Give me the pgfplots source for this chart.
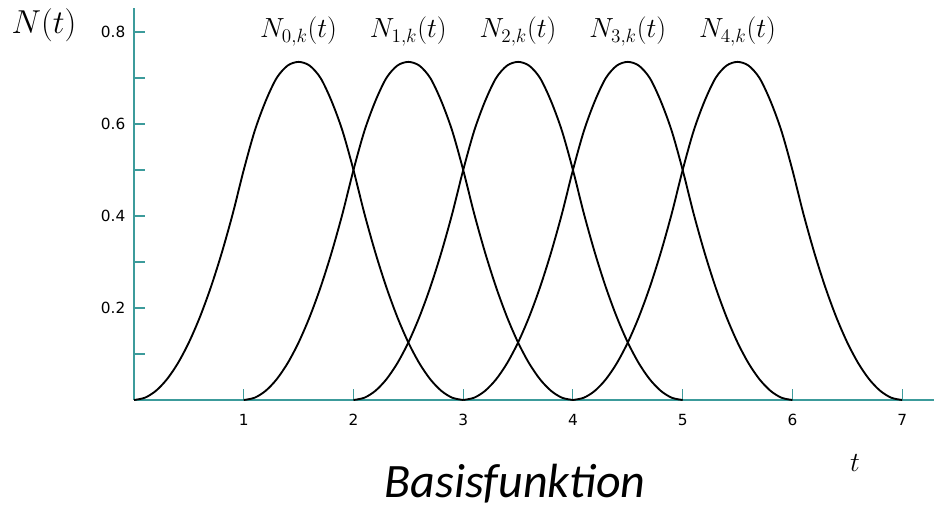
\documentclass[border=0pt]{standalone}
\usepackage{pgfplots}
\pgfplotsset{compat=1.18}
\usepackage{pgfplotstable}
\usepackage{fontspec}
\newfontfamily\calibri{Carlito}
\newfontfamily\ticksans{DejaVu Sans}
\definecolor{axisteal}{RGB}{60,155,155}

% one quadratic basis function on its support [0,3]
\pgfplotstableread{
u    n
0.0  0.000
0.1  0.005
0.2  0.020
0.3  0.045
0.4  0.080
0.5  0.125
0.6  0.180
0.7  0.245
0.8  0.320
0.9  0.405
1.0  0.500
1.1  0.585
1.2  0.650
1.3  0.700
1.4  0.727
1.5  0.735
1.6  0.727
1.7  0.700
1.8  0.650
1.9  0.585
2.0  0.500
2.1  0.405
2.2  0.320
2.3  0.245
2.4  0.180
2.5  0.125
2.6  0.080
2.7  0.045
2.8  0.020
2.9  0.005
3.0  0.000
}\basis

\begin{document}
\begin{tikzpicture}
\useasboundingbox (-100.5pt,-81.75pt) rectangle (600pt,300pt);
\begin{axis}[
  at={(0,0)}, anchor=origin,
  x=82.3pt, y=345pt,
  xmin=0, xmax=7.29, ymin=0, ymax=0.852,
  axis lines=left,
  axis line style={-, axisteal, line width=1pt},
  xtick={1,...,7},
  ytick={0.1,0.2,0.3,0.4,0.5,0.6,0.7,0.8},
  yticklabels={,0.2,,0.4,,0.6,,0.8},
  tick style={axisteal, line width=0.8pt},
  tick align=inside,
  major tick length=8pt,
  ticklabel style={font=\ticksans\fontsize{11.5}{12}\selectfont},
  /pgf/number format/assume math mode=true,
  xticklabel style={yshift=-7pt},
  yticklabel style={xshift=-3pt},
  clip=false,
]
\pgfplotsinvokeforeach{0,...,4}{
  \addplot[black, line width=1.4pt, smooth, tension=0.5, line join=round] table[x expr=\thisrow{u}+#1, y=n] {\basis};
  \node[anchor=base, font=\fontsize{20}{22}\selectfont] at (axis cs:1.5+#1,0.787) {$N_{#1,k}(t)$};
}
\end{axis}
\node[font=\fontsize{23}{25}\selectfont] at (-67.5pt,281pt) {$N(t)$};
\node[font=\fontsize{22}{24}\selectfont] at (540.75pt,-47.25pt) {$t$};
\node[anchor=base, font=\calibri\itshape\fontsize{36}{38}\selectfont] at (285.75pt,-73.5pt) {Basisfunktion};
\end{tikzpicture}
\end{document}
